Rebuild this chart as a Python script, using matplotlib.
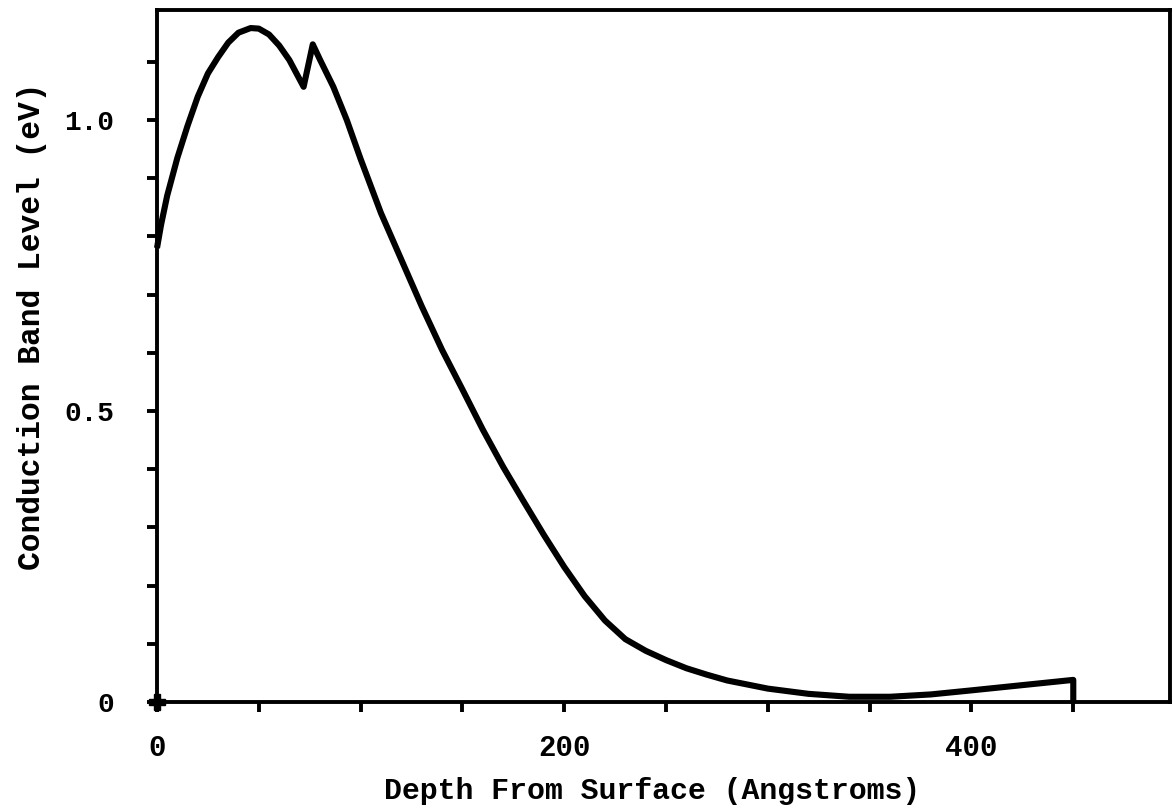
import matplotlib
matplotlib.use("Agg")
import matplotlib.pyplot as plt
from matplotlib.ticker import MultipleLocator, FixedLocator, FixedFormatter

# Data
depth = [0, 2, 5, 10, 15, 20, 25, 30, 35, 40, 46, 50, 55, 60, 65, 72, 76.5,
         80, 86.6, 93.2, 100, 110, 120, 130, 140, 150, 160, 170, 180, 190,
         200, 210, 220, 230, 240, 250, 260, 270, 280, 300, 320, 340, 360,
         380, 400, 425, 450, 450]
level = [0.78, 0.82, 0.87, 0.935, 0.99, 1.04, 1.08, 1.108, 1.133, 1.15,
         1.158, 1.157, 1.147, 1.128, 1.103, 1.057, 1.13, 1.104, 1.057, 1.0,
         0.933, 0.84, 0.76, 0.68, 0.605, 0.537, 0.468, 0.404, 0.345, 0.287,
         0.232, 0.182, 0.140, 0.108, 0.088, 0.072, 0.058, 0.047, 0.037,
         0.023, 0.014, 0.009, 0.009, 0.013, 0.020, 0.029, 0.038, 0.0]

x_tick_vals = [0, 200, 400]
x_tick_labels = ["0", "200", "400"]
y_tick_vals = [0, 0.5, 1.0]
y_tick_labels = ["0", "0.5", "1.0"]

FONT = "Liberation Mono"

fig = plt.figure(figsize=(11.73, 8.08), dpi=100)
ax = fig.add_axes([157/1173, (808-702)/808, (1170-157)/1173, (702-10)/808])

ax.plot(depth, level, color="black", lw=4.4, solid_joinstyle="round",
        solid_capstyle="butt", clip_on=False)
ax.plot([0], [0], marker="P", color="black", markersize=11, clip_on=False)

ax.set_xlim(0, 497.5)
ax.set_ylim(0, 1.189)

for s in ax.spines.values():
    s.set_linewidth(2.8)

ax.xaxis.set_major_locator(FixedLocator(x_tick_vals))
ax.xaxis.set_major_formatter(FixedFormatter(x_tick_labels))
ax.xaxis.set_minor_locator(MultipleLocator(50))
ax.yaxis.set_major_locator(FixedLocator(y_tick_vals))
ax.yaxis.set_major_formatter(FixedFormatter(y_tick_labels))
ax.yaxis.set_minor_locator(MultipleLocator(0.1))

ax.tick_params(which="both", direction="out", length=7, width=2.8, color="black")
ax.tick_params(axis="x", which="major", pad=16)
ax.tick_params(axis="y", which="major", pad=24)

for lab in ax.get_xticklabels():
    lab.set_fontfamily(FONT)
    lab.set_fontweight("bold")
    lab.set_fontsize(21)
for lab in ax.get_yticklabels():
    lab.set_fontfamily(FONT)
    lab.set_fontweight("bold")
    lab.set_fontsize(20)

ax.set_xlabel("Depth From Surface (Angstroms)", fontfamily=FONT,
              fontweight="bold", fontsize=21.5, labelpad=11)
ax.set_ylabel("Conduction Band Level (eV)", fontfamily=FONT,
              fontweight="bold", fontsize=22.5, labelpad=12)
ax.xaxis.label.set_x(0.489)
ax.yaxis.label.set_y(0.543)

fig.savefig("out.png", dpi=100)
